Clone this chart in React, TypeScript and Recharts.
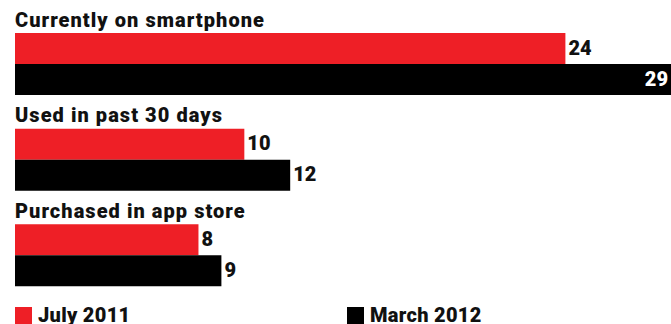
import { BarChart, Bar, XAxis, YAxis, LabelList } from "recharts";

const categories = ["Currently on smartphone", "Used in past 30 days", "Purchased in app store"];
const july2011 = [24, 10, 8];
const march2012 = [29, 12, 9];
const seriesNames = ["July 2011", "March 2012"];
const seriesColors = ["#ee1f26", "#000000"];

const data = categories.map((name, i) => ({
  name,
  july: july2011[i],
  march: march2012[i],
}));

const W = 671;
const H = 324;
const BAR = 31;
const FONT = "Roboto, 'Noto Sans', sans-serif";
const margin = { top: 16, right: 7, bottom: 21, left: 15 };

// category title sits just above the red bar of each pair
function TitleLabel(props: any) {
  const { x, y, value } = props;
  return (
    <text
      x={x}
      y={y - 6.5}
      fill="#111"
      fontFamily={FONT}
      fontWeight={900}
      fontSize={20}
      letterSpacing={1.05}
    >
      {value}
    </text>
  );
}

// value labels: outside the bar, or inside in white if the bar runs off the edge
function ValueLabel(props: any) {
  const { x, y, width, height, value } = props;
  const end = x + width;
  const inside = end > W - 20;
  return (
    <text
      x={inside ? W - 3 : end + 3}
      y={y + height / 2 + 1}
      textAnchor={inside ? "end" : "start"}
      dominantBaseline="middle"
      fill={inside ? "#fff" : "#111"}
      fontFamily={FONT}
      fontWeight={900}
      fontSize={20}
    >
      {value}
    </text>
  );
}

export default function App() {
  return (
    <div
      style={{
        position: "absolute",
        left: 0,
        top: 0,
        width: W,
        height: H,
        overflow: "hidden",
        background: "#fff",
        fontFamily: FONT,
      }}
    >
      <BarChart
        width={710}
        height={H}
        data={data}
        layout="vertical"
        margin={margin}
        barSize={BAR}
        barGap={0}
      >
        <XAxis type="number" domain={[0, 30]} hide />
        <YAxis type="category" dataKey="name" hide />
        <Bar dataKey="july" fill={seriesColors[0]} isAnimationActive={false}>
          <LabelList dataKey="name" content={<TitleLabel />} />
          <LabelList dataKey="july" content={<ValueLabel />} />
        </Bar>
        <Bar dataKey="march" fill={seriesColors[1]} isAnimationActive={false}>
          <LabelList dataKey="march" content={<ValueLabel />} />
        </Bar>
      </BarChart>
      <div
        style={{
          position: "absolute",
          left: 15,
          top: 307,
          width: W - 15,
          display: "flex",
          fontWeight: 900,
          fontSize: 20,
          color: "#111",
          lineHeight: "17px",
        }}
      >
        {seriesNames.map((s, i) => (
          <div
            key={s}
            style={{ display: "flex", alignItems: "flex-start", width: i === 0 ? 332 : 300 }}
          >
            <span
              style={{
                display: "inline-block",
                width: 17,
                height: 17,
                background: seriesColors[i],
                marginRight: 6,
              }}
            />
            <span style={{ letterSpacing: 0.3 }}>{s}</span>
          </div>
        ))}
      </div>
    </div>
  );
}
